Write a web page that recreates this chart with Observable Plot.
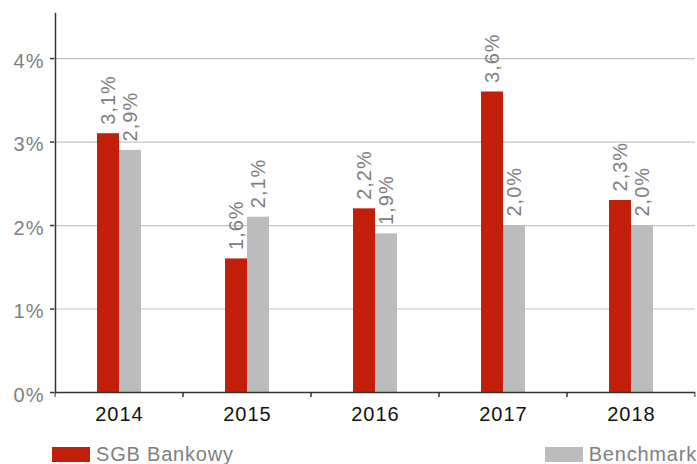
<!DOCTYPE html>
<html><head><meta charset="utf-8">
<script src="https://cdn.jsdelivr.net/npm/d3@7"></script>
<script src="https://cdn.jsdelivr.net/npm/@observablehq/plot@0.6"></script>
<style>
body{margin:0;background:#fff;font-family:"Liberation Sans",Arial,Helvetica,sans-serif;}
#chart svg{display:block;overflow:visible;}
#chart svg text{letter-spacing:1px;}
#chart g[aria-label="y-axis tick label"] text{fill:#808080;}
#chart g[aria-label="fx-axis tick label"] text{fill:#111;}
#legend{display:flex;justify-content:space-between;align-items:center;margin-top:14px;padding-left:52px;font-size:20px;line-height:20px;color:#808080;letter-spacing:0.8px;}
#legend .item{display:flex;align-items:center;}
#legend .sw{display:inline-block;width:38px;height:15px;margin-right:6px;}
</style></head><body>
<div id="chart"></div>
<div id="legend"></div>
<script>
const years = ["2014", "2015", "2016", "2017", "2018"];
const seriesNames = ["SGB Bankowy", "Benchmark"];
const sgbValues = [3.1, 1.6, 2.2, 3.6, 2.3];
const benchmarkValues = [2.9, 2.1, 1.9, 2.0, 2.0];
const yTicks = [0, 1, 2, 3, 4];
const colors = ["#c21f0b", "#bbbcbe"];

const data = years.flatMap((y, i) => [
  {year: y, series: seriesNames[0], value: sgbValues[i]},
  {year: y, series: seriesNames[1], value: benchmarkValues[i]}
]);

const W = 697, H = 430, mL = 53, mR = 0;
const step = (W - mL - mR) / years.length;
const fmt = v => v.toFixed(1).replace(".", ",") + "%";

const plot = Plot.plot({
  width: W, height: H,
  marginLeft: mL, marginRight: mR, marginTop: 13, marginBottom: 38,
  style: {fontFamily: "'Liberation Sans', Arial, sans-serif", fontSize: "20px", background: "#fff", color: "#333"},
  fx: {domain: years, padding: 0, label: null},
  x: {domain: seriesNames, paddingInner: 0, paddingOuter: 1.8, axis: null},
  y: {domain: [0, 4.54], label: null},
  color: {domain: seriesNames, range: colors},
  marks: [
    Plot.gridY(yTicks.slice(1), {stroke: "#c4c4c4", strokeOpacity: 1, strokeWidth: 1.2}),
    Plot.barY(data, {fx: "year", x: "series", y: "value", fill: "series"}),
    Plot.text(data, {fx: "year", x: "series", y: "value", text: d => fmt(d.value), rotate: -90, textAnchor: "start", lineAnchor: "middle", dy: -9, fill: "#808080", fontSize: 20}),
    Plot.ruleY([0], {stroke: "#333", strokeWidth: 1.5}),
    Plot.frame({anchor: "left", fx: () => years[0], stroke: "#333", strokeWidth: 1.5}),
    Plot.axisY(yTicks, {tickFormat: d => d + "%", tickSize: 0, tickPadding: 11, dy: 3, fontSize: 20, label: null}),
    Plot.tickY(yTicks, {y: d => d, fx: () => years[0], stroke: "#333", strokeWidth: 1.5, dx: -5, insetRight: step - 5}),
    Plot.axisFx({anchor: "bottom", tickSize: 0, tickPadding: 14, fontSize: 20, label: null}),
    Plot.axisFx({anchor: "bottom", tickSize: 5, tickFormat: null, dx: -step / 2, stroke: "#333", label: null}),
    Plot.axisFx([years[years.length - 1]], {anchor: "bottom", tickSize: 5, tickFormat: null, dx: step / 2 - 1, stroke: "#333", label: null})
  ]
});
document.getElementById("chart").append(plot);

const legend = document.getElementById("legend");
seriesNames.forEach((name, i) => {
  const item = document.createElement("div");
  item.className = "item";
  const sw = document.createElement("span");
  sw.className = "sw";
  sw.style.background = colors[i];
  item.append(sw, document.createTextNode(name));
  legend.append(item);
});
</script>
</body></html>
